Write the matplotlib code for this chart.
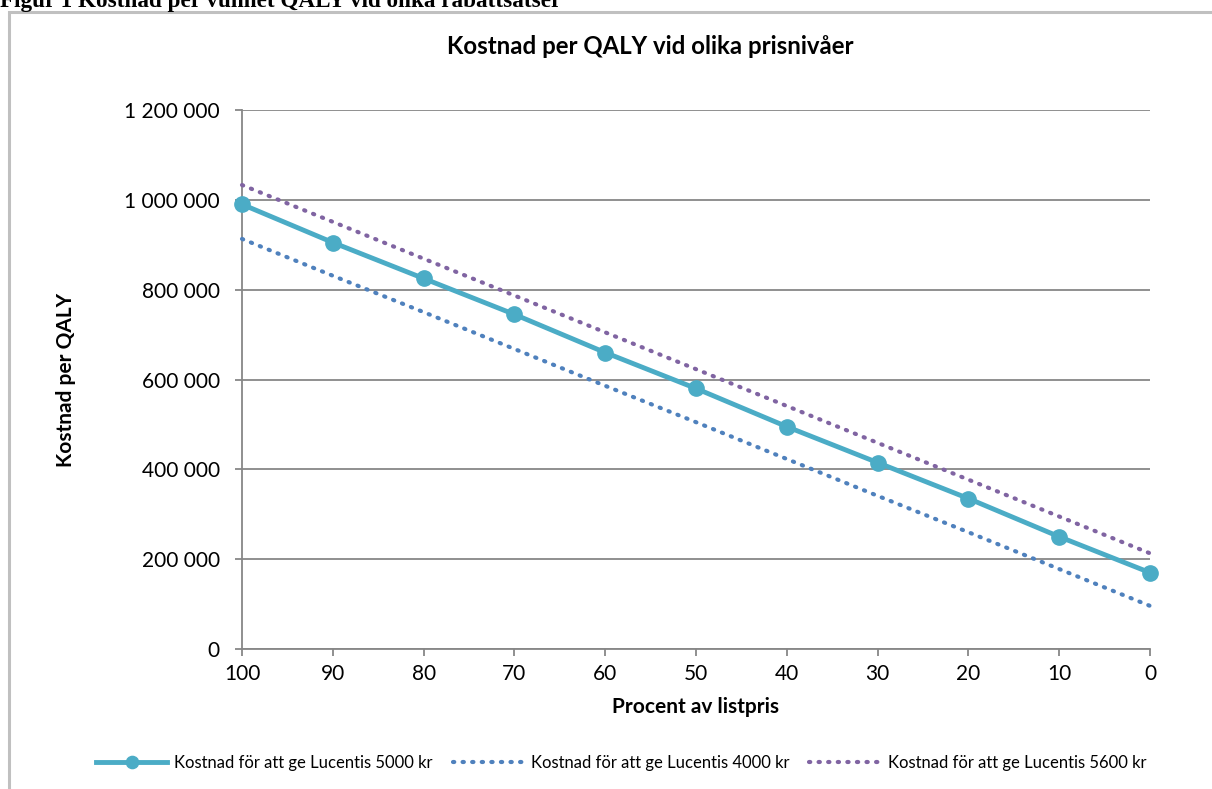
import matplotlib
matplotlib.use("Agg")
import matplotlib.pyplot as plt
from matplotlib.patches import Rectangle

percent = [100, 90, 80, 70, 60, 50, 40, 30, 20, 10, 0]
cost_5000 = [990000, 905000, 825000, 745000, 660000, 580000, 495000, 415000, 335000, 250000, 170000]
cost_4000 = [913000, 831000, 750000, 668000, 586000, 505000, 423000, 341000, 260000, 178000, 96000]
cost_5600 = [1033000, 951000, 869000, 787000, 705000, 623000, 541000, 459000, 377000, 295000, 213000]
labels = ["Kostnad för att ge Lucentis 5000 kr",
          "Kostnad för att ge Lucentis 4000 kr",
          "Kostnad för att ge Lucentis 5600 kr"]
yticks = [0, 200000, 400000, 600000, 800000, 1000000, 1200000]

W, H = 1212, 789
fig = plt.figure(figsize=(W/100, H/100), dpi=100)
font = "Lato"

# caption (cut off at top)
fig.text(0/W, 1 - 7.5/H, "Figur 1 Kostnad per vunnet QALY vid olika rabattsatser",
         family="Liberation Serif", weight="bold", fontsize=16.7, va="baseline", ha="left")
# chart frame
fig.patches.append(Rectangle((9/W, -0.05), 1.2, 1 - 12/H + 0.05, transform=fig.transFigure,
                             fill=False, edgecolor="#c0c0c0", linewidth=2.2))

ax = fig.add_axes([242/W, 1 - 649/H, (1150-242)/W, (649-110)/H])
ax.plot(percent, cost_5000, color="#4bacc6", linewidth=3.5, marker="o", markersize=11,
        clip_on=False, zorder=5, label=labels[0])
ax.plot(percent, cost_4000, color="#4f81bd", linewidth=3, linestyle=(0, (0.3, 2.0)),
        dash_capstyle="round", clip_on=False, zorder=4, label=labels[1])
ax.plot(percent, cost_5600, color="#8064a2", linewidth=3, linestyle=(0, (0.3, 2.0)),
        dash_capstyle="round", clip_on=False, zorder=4, label=labels[2])

ax.set_xlim(100, 0)
ax.set_ylim(0, 1200000)
ax.set_xticks(percent)
ax.set_xticklabels([str(p) for p in percent], family=font, fontsize=15)
ax.set_yticks(yticks)
ax.set_yticklabels([f"{v:,}".replace(",", " ") for v in yticks], family=font, fontsize=15)
ax.grid(axis="y", color="#878787", linewidth=1.3)
ax.set_axisbelow(True)
for s in ["top", "right"]:
    ax.spines[s].set_visible(False)
for s in ["left", "bottom"]:
    ax.spines[s].set_color("#878787")
    ax.spines[s].set_linewidth(1.3)
ax.tick_params(axis="both", color="#878787", length=5, width=1.3, pad=6)
ax.tick_params(axis="y", pad=11)

ax.set_xlabel("Procent av listpris", family=font, weight="bold", fontsize=15, labelpad=9)
ax.set_ylabel("Kostnad per QALY", family=font, weight="bold", fontsize=15)
ax.yaxis.set_label_coords((76 - 242) / 908, 0.5)
fig.text(650/W, 1 - 47/H, "Kostnad per QALY vid olika prisnivåer", family=font,
         weight="bold", fontsize=17.3, ha="center", va="center")

leg = fig.legend(loc="center", bbox_to_anchor=(621/W, 1 - 763/H), ncol=3, frameon=False,
                 prop={"family": font, "size": 12}, handlelength=4.3, columnspacing=1.2,
                 handletextpad=0.4, markerscale=0.8)

fig.savefig("out.png", dpi=100)
